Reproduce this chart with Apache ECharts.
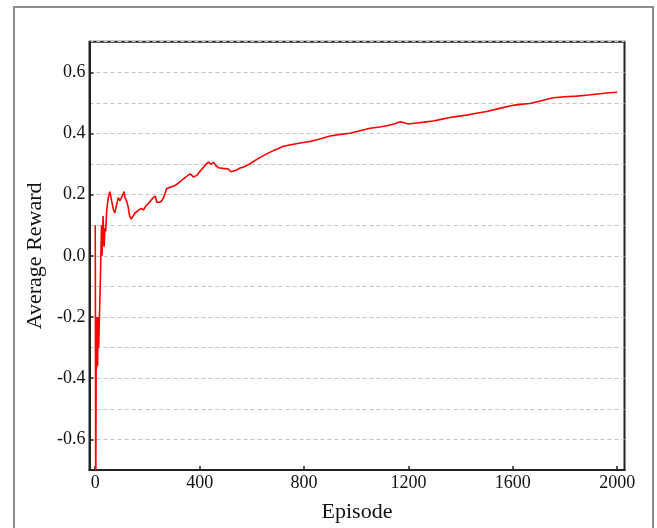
<!DOCTYPE html>
<html>
<head>
<meta charset="utf-8">
<script src="https://cdn.jsdelivr.net/npm/echarts@6/dist/echarts.min.js"></script>
<style>
  html, body { margin: 0; padding: 0; background: #fff; }
  #chart { width: 657px; height: 528px; }
</style>
</head>
<body>
<div id="chart"></div>
<script>
// episode numbers and cumulative average reward
const episodes = [
  0, 2, 4, 5, 7, 9, 11, 13, 16, 19, 22, 24, 26, 30, 34, 37, 40, 44, 50, 56,
  60, 65, 70, 75, 80, 88, 95, 100, 106, 110, 114, 120, 126, 132, 138, 145, 152, 160, 168, 176,
  185, 195, 203, 212, 222, 230, 236, 245, 253, 262, 274, 290, 306, 322, 338, 350, 364, 376, 389, 400,
  415, 425, 434, 445, 453, 462, 472, 490, 510, 520, 527, 540, 555, 568, 581, 600, 632, 660, 683, 700,
  721, 750, 785, 823, 860, 900, 940, 976, 1010, 1053, 1090, 1117, 1145, 1168, 1180, 1187, 1200, 1232, 1260, 1295,
  1330, 1359, 1390, 1423, 1460, 1500, 1550, 1601, 1630, 1665, 1710, 1755, 1800, 1844, 1890, 1933, 1970, 2000
]
const avgReward = [
  0.1, -0.78, -0.2, -0.37, -0.2, -0.36, -0.2, -0.3, -0.2, -0.1, 0.02, 0.1, 0.0, 0.13, 0.03, 0.09, 0.08, 0.15, 0.19, 0.21,
  0.21, 0.17, 0.15, 0.14, 0.16, 0.19, 0.18, 0.19, 0.2, 0.21, 0.19, 0.18, 0.16, 0.13, 0.12, 0.13, 0.14, 0.145, 0.15, 0.155,
  0.15, 0.165, 0.17, 0.18, 0.19, 0.195, 0.175, 0.175, 0.178, 0.19, 0.22, 0.225, 0.23, 0.24, 0.252, 0.26, 0.268, 0.258, 0.263, 0.275,
  0.29, 0.3, 0.306, 0.3, 0.306, 0.295, 0.288, 0.286, 0.284, 0.275, 0.274, 0.28, 0.287, 0.29, 0.295, 0.305, 0.322, 0.335, 0.344, 0.35,
  0.358, 0.363, 0.369, 0.374, 0.382, 0.392, 0.397, 0.401, 0.408, 0.417, 0.421, 0.425, 0.431, 0.438, 0.436, 0.43, 0.431, 0.434, 0.437, 0.441,
  0.447, 0.452, 0.456, 0.46, 0.466, 0.472, 0.482, 0.492, 0.495, 0.498, 0.507, 0.517, 0.52, 0.522, 0.526, 0.53, 0.533, 0.535
]
const xTicks = [0, 400, 800, 1200, 1600, 2000]
const yTicks = [-0.6, -0.4, -0.2, 0, 0.2, 0.4, 0.6]

const chart = echarts.init(document.getElementById('chart'))
const font = 'Liberation Serif'

chart.setOption({
  animation: false,
  backgroundColor: '#fff',
  graphic: [
    {
      // grey frame around the figure
      type: 'rect',
      shape: { x: 14, y: 7, width: 639, height: 540 },
      style: { fill: 'none', stroke: '#8c8c8c', lineWidth: 2 },
      silent: true
    }
  ],
  grid: {
    left: 89.5,
    right: 32.5,
    top: 41.7,
    bottom: 55,
    show: true,
    borderColor: '#222',
    borderWidth: 2,
    backgroundColor: 'transparent'
  },
  xAxis: {
    type: 'value',
    min: -22,
    max: 2028,
    name: 'Episode',
    nameLocation: 'middle',
    nameGap: 31,
    nameTextStyle: { fontFamily: font, fontSize: 22, color: '#111' },
    axisLine: { show: true, onZero: false, lineStyle: { color: '#222', width: 2 } },
    axisTick: { show: true, inside: true, length: 4, customValues: xTicks, lineStyle: { color: '#222', width: 1.5 } },
    axisLabel: {
      customValues: xTicks,
      margin: 4,
      fontFamily: font,
      fontSize: 18,
      color: '#111',
      formatter: v => String(v)
    },
    splitLine: { show: false }
  },
  yAxis: [
    {
      // dashed grid every 0.1
      type: 'value',
      min: -0.7,
      max: 0.7,
      interval: 0.1,
      axisLine: { show: false },
      axisTick: { show: false },
      axisLabel: { show: false },
      splitLine: { show: true, lineStyle: { color: '#c4c4c4', type: [4, 3], width: 1 } }
    },
    {
      type: 'value',
      min: -0.7,
      max: 0.7,
      position: 'left',
      name: 'Average Reward',
      nameLocation: 'middle',
      nameGap: 34,
      nameTextStyle: { fontFamily: font, fontSize: 22, color: '#111' },
      axisLine: { show: true, onZero: false, lineStyle: { color: '#222', width: 2 } },
      axisTick: { show: true, inside: true, length: 4, customValues: yTicks, lineStyle: { color: '#222', width: 1.5 } },
      axisLabel: {
        customValues: yTicks,
        margin: 4,
        fontFamily: font,
        fontSize: 18,
        color: '#111',
        formatter: v => v.toFixed(1)
      },
      splitLine: { show: false }
    }
  ],
  series: [
    {
      type: 'line',
      yAxisIndex: 0,
      data: episodes.map((e, i) => [e, avgReward[i]]),
      showSymbol: false,
      clip: true,
      lineStyle: { color: '#ff0000', width: 1.6 }
    }
  ]
})
</script>
</body>
</html>
